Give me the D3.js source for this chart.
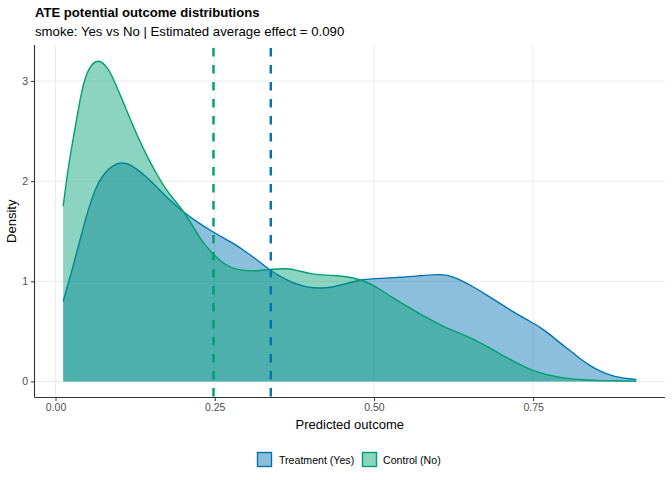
<!DOCTYPE html>
<html><head><meta charset="utf-8">
<script src="https://cdn.jsdelivr.net/npm/d3@7"></script>
<style>body{margin:0;background:#fff;}svg{display:block;font-family:"Liberation Sans",Arial,sans-serif;}</style>
</head><body><svg id="c" width="672" height="480"></svg>
<script>
// ---- data ----
const seriesNames = ["Treatment (Yes)", "Control (No)"];
const treatX = [0.012,0.025,0.036,0.046,0.057,0.067,0.078,0.090,0.104,0.117,0.130,0.143,0.156,0.170,0.185,0.201,0.225,0.248,0.265,0.282,0.300,0.313,0.325,0.337,0.355,0.374,0.395,0.416,0.435,0.452,0.470,0.484,0.510,0.541,0.570,0.599,0.615,0.631,0.655,0.678,0.700,0.720,0.742,0.762,0.778,0.793,0.810,0.825,0.840,0.856,0.870,0.887,0.900,0.912];
const treatDensity = [0.80,1.09,1.35,1.60,1.83,1.99,2.09,2.16,2.19,2.17,2.11,2.04,1.96,1.87,1.78,1.69,1.58,1.49,1.43,1.37,1.29,1.23,1.17,1.11,1.04,0.98,0.94,0.93,0.94,0.97,1.00,1.02,1.03,1.04,1.055,1.07,1.065,1.03,0.95,0.86,0.77,0.69,0.61,0.54,0.46,0.38,0.30,0.22,0.155,0.10,0.065,0.038,0.026,0.02];
const ctrlX = [0.012,0.020,0.030,0.041,0.052,0.067,0.083,0.093,0.107,0.120,0.133,0.146,0.159,0.172,0.188,0.201,0.214,0.224,0.235,0.248,0.261,0.277,0.292,0.313,0.337,0.363,0.380,0.400,0.437,0.468,0.494,0.512,0.531,0.552,0.573,0.594,0.615,0.636,0.657,0.678,0.699,0.720,0.741,0.762,0.783,0.804,0.825,0.860,0.890,0.912];
const ctrlDensity = [1.75,2.15,2.50,2.92,3.14,3.23,3.13,2.99,2.78,2.58,2.39,2.22,2.07,1.93,1.80,1.70,1.57,1.46,1.36,1.27,1.19,1.13,1.11,1.10,1.12,1.13,1.11,1.07,1.06,1.04,0.98,0.91,0.83,0.75,0.67,0.60,0.53,0.48,0.42,0.35,0.27,0.20,0.13,0.085,0.05,0.03,0.017,0.008,0.004,0.003];
const meanTreat = 0.338, meanCtrl = 0.248;
const xTicks = [0, 0.25, 0.5, 0.75];
const xTickLabels = ["0.00", "0.25", "0.50", "0.75"];
const yTicks = [0, 1, 2, 3];
const yTickLabels = ["0", "1", "2", "3"];
const titleText = "ATE potential outcome distributions";
const subtitleText = "smoke: Yes vs No | Estimated average effect = 0.090";
const xTitle = "Predicted outcome", yTitle = "Density";
const lineColors = ["#0072B2", "#009E73"];

// ---- chart ----
const svg = d3.select("#c");
const L = 34.5, R = 665, T = 45, B = 397.5;
const x = d3.scaleLinear().domain([-0.033, 0.957]).range([L, R]);
const y = d3.scaleLinear().domain([-0.16, 3.36]).range([B, T]);

// grid
const g = svg.append("g");
g.selectAll(".vg").data(xTicks).join("line").attr("x1", d => x(d)).attr("x2", d => x(d))
  .attr("y1", T).attr("y2", B).attr("stroke", "#ebebeb").attr("stroke-width", 1);
g.selectAll(".hg").data(yTicks).join("line").attr("y1", d => y(d)).attr("y2", d => y(d))
  .attr("x1", L).attr("x2", R).attr("stroke", "#ebebeb").attr("stroke-width", 1);

const seriesData = [
  treatX.map((v, i) => [v, treatDensity[i]]),
  ctrlX.map((v, i) => [v, ctrlDensity[i]])
];
const area = d3.area().x(d => x(d[0])).y0(y(0)).y1(d => y(d[1])).curve(d3.curveBasis);
const line = d3.line().x(d => x(d[0])).y(d => y(d[1])).curve(d3.curveBasis);
seriesData.forEach((s, i) => {
  svg.append("path").attr("d", area(s)).attr("fill", lineColors[i]).attr("fill-opacity", 0.45);
  svg.append("path").attr("d", line(s)).attr("fill", "none").attr("stroke", lineColors[i]).attr("stroke-width", 1.4);
});

// mean lines
[[meanTreat, lineColors[0]], [meanCtrl, lineColors[1]]].forEach(([m, c]) => {
  svg.append("line").attr("x1", x(m)).attr("x2", x(m)).attr("y1", T + 3).attr("y2", B)
    .attr("stroke", c).attr("stroke-width", 2.4).attr("stroke-dasharray", "8.5,8.5");
});

// axes
const xAxis = d3.axisBottom(x).tickValues(xTicks).tickFormat((d, i) => xTickLabels[i]).tickSize(3.5).tickPadding(3);
const yAxis = d3.axisLeft(y).tickValues(yTicks).tickFormat((d, i) => yTickLabels[i]).tickSize(3.5).tickPadding(3);
const xa = svg.append("g").attr("transform", `translate(0,${B})`).call(xAxis);
const ya = svg.append("g").attr("transform", `translate(${L},0)`).call(yAxis);
[xa, ya].forEach(a => {
  a.select(".domain").attr("stroke", "#333").attr("stroke-width", 1.1);
  a.selectAll(".tick line").attr("stroke", "#333").attr("stroke-width", 1);
  a.selectAll(".tick text").attr("fill", "#4d4d4d").style("font-size", "10.5px").style("font-family", "Liberation Sans, Arial, sans-serif");
});
xa.select(".domain").attr("d", `M${L},0H${R}`);
ya.select(".domain").attr("d", `M0,${B}V${T}`);

// titles
svg.append("text").attr("x", 35).attr("y", 17).text(titleText)
  .style("font-size", "13.1px").style("font-weight", "bold").attr("fill", "#000");
svg.append("text").attr("x", 35).attr("y", 36).text(subtitleText)
  .style("font-size", "13.2px").attr("fill", "#000");
svg.append("text").attr("x", (L + R) / 2).attr("y", 429).attr("text-anchor", "middle").text(xTitle)
  .style("font-size", "13px").attr("fill", "#000");
svg.append("text").attr("transform", `translate(16,${(T + B) / 2}) rotate(-90)`).attr("text-anchor", "middle").text(yTitle)
  .style("font-size", "13px").attr("fill", "#000");

// legend
const lg = svg.append("g");
const keyX = [257, 362], txtX = [279, 383];
seriesNames.forEach((n, i) => {
  lg.append("rect").attr("x", keyX[i] + 0.5).attr("y", 452.5).attr("width", 14).attr("height", 14)
    .attr("fill", lineColors[i]).attr("fill-opacity", 0.45).attr("stroke", lineColors[i]).attr("stroke-width", 1.4);
  lg.append("text").attr("x", txtX[i]).attr("y", 463.5).text(n).style("font-size", "10.6px").attr("fill", "#000");
});
</script></body></html>
